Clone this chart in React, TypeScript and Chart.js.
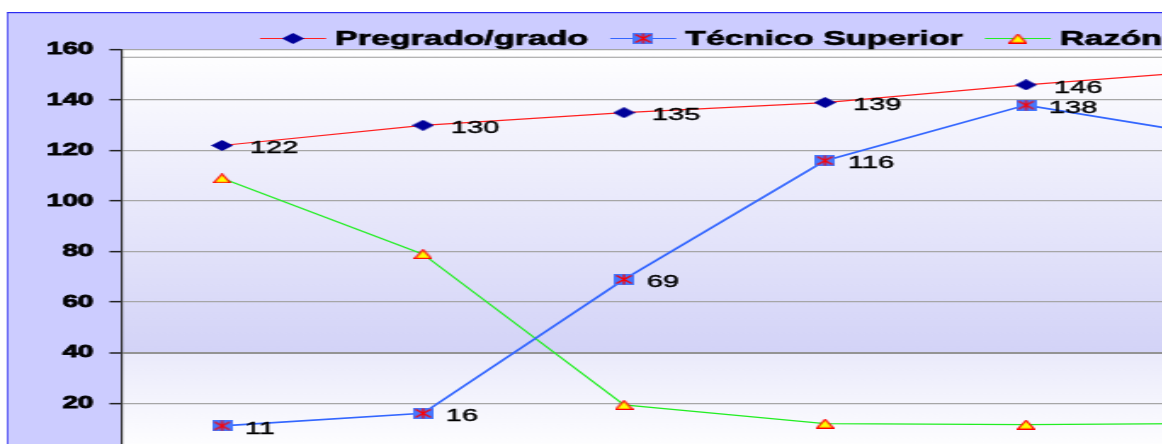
import React, { useEffect, useRef } from 'react';
import { Chart, registerables } from 'chart.js';

Chart.register(...registerables);

// ---- data ----
const categories = ['1', '2', '3', '4', '5', '6'];
const pregrado = [122, 130, 135, 139, 146, 152];
const tecnico = [11, 16, 69, 116, 138, 125];
const razon = [109, 79, 19.3, 11.9, 11.5, 12];
const seriesNames = ['Pregrado/grado', 'Técnico Superior', 'Razón'];
const yMin = 0;
const yMax = 160;
const yStep = 20;

// ---- layout (native canvas px; whole canvas is stretched horizontally by SX) ----
const SX = 1.7;
const CW = 800;
const CH = 473;

function makeDiamond() {
  const c = document.createElement('canvas');
  c.width = 13; c.height = 11;
  const g = c.getContext('2d')!;
  g.fillStyle = '#000099';
  g.beginPath();
  g.moveTo(0, 5.5); g.lineTo(6.5, 0); g.lineTo(13, 5.5); g.lineTo(6.5, 11);
  g.closePath(); g.fill();
  return c;
}
function makeSquareStar() {
  const c = document.createElement('canvas');
  c.width = 12; c.height = 11;
  const g = c.getContext('2d')!;
  g.fillStyle = '#4477FF';
  g.fillRect(0, 0, 12, 11);
  g.strokeStyle = '#FF0000';
  g.lineWidth = 1.3;
  g.beginPath();
  g.moveTo(1.5, 1.5); g.lineTo(10.5, 9.5);
  g.moveTo(10.5, 1.5); g.lineTo(1.5, 9.5);
  g.moveTo(6, 0.5); g.lineTo(6, 10.5);
  g.stroke();
  return c;
}
function makeTriangle() {
  const c = document.createElement('canvas');
  c.width = 11; c.height = 10;
  const g = c.getContext('2d')!;
  g.fillStyle = '#FFFF00';
  g.strokeStyle = '#FF0000';
  g.lineWidth = 1.2;
  g.beginPath();
  g.moveTo(5.5, 0.8); g.lineTo(10.3, 9.3); g.lineTo(0.7, 9.3);
  g.closePath(); g.fill(); g.stroke();
  return c;
}

export default function App() {
  const ref = useRef<HTMLCanvasElement | null>(null);

  useEffect(() => {
    const canvas = ref.current;
    if (!canvas) return;
    const diamond = makeDiamond();
    const square = makeSquareStar();
    const tri = makeTriangle();
    const markers = [diamond, square, tri];
    const lineColors = ['#FF2020', '#3366FF', '#22EE22'];

    const bgPlugin = {
      id: 'bg',
      beforeDraw(chart: any) {
        const { ctx, chartArea: a } = chart;
        ctx.save();
        ctx.fillStyle = '#FFFFFF';
        ctx.fillRect(0, 0, CW, CH);
        ctx.fillStyle = '#CCCCFF';
        ctx.fillRect(7 / SX, 12, CW, CH);
        ctx.fillStyle = '#2B2BF0';
        ctx.fillRect(7 / SX, 12, CW, 1.2);
        ctx.fillRect(7 / SX, 12, 1.2 / SX, CH);
        const mid = 352;
        const g1 = ctx.createLinearGradient(0, a.top, 0, mid);
        g1.addColorStop(0, '#FFFFFF');
        g1.addColorStop(1, '#D3D3F7');
        ctx.fillStyle = g1;
        ctx.fillRect(a.left, a.top, a.right - a.left, mid - a.top);
        const g2 = ctx.createLinearGradient(0, mid, 0, a.bottom);
        g2.addColorStop(0, '#EAEAFB');
        g2.addColorStop(1, '#FFFFFF');
        ctx.fillStyle = g2;
        ctx.fillRect(a.left, mid, a.right - a.left, a.bottom - mid);
        ctx.fillStyle = '#ABABAB';
        ctx.fillRect(a.left, 56.7, a.right - a.left, 1.2);
        ctx.restore();
      },
    };

    const labelPlugin = {
      id: 'valueLabels',
      afterDatasetsDraw(chart: any) {
        const { ctx } = chart;
        ctx.save();
        ctx.font = '17px "Liberation Sans", Arial, sans-serif';
        ctx.fillStyle = '#000000';
        ctx.strokeStyle = '#000000';
        ctx.lineWidth = 0.4;
        ctx.textAlign = 'left';
        ctx.textBaseline = 'middle';
        const offsets = [28 / SX, 23 / SX];
        [0, 1].forEach((di) => {
          const meta = chart.getDatasetMeta(di);
          const vals = chart.data.datasets[di].data;
          meta.data.forEach((pt: any, i: number) => {
            const tx = pt.x + offsets[di];
            const ty = pt.y + 3;
            ctx.fillText(String(vals[i]), tx, ty);
            ctx.strokeText(String(vals[i]), tx, ty);
          });
        });
        ctx.restore();
      },
    };

    const legendPlugin = {
      id: 'customLegend',
      afterDraw(chart: any) {
        const { ctx } = chart;
        ctx.save();
        ctx.font = 'bold 20px "Liberation Sans", Arial, sans-serif';
        ctx.textBaseline = 'middle';
        ctx.textAlign = 'left';
        let x = 260 / SX;
        const y = 38.5;
        const lineLen = 66 / SX;
        const textGap = 9 / SX;
        const itemGap = 22 / SX;
        seriesNames.forEach((name, i) => {
          ctx.strokeStyle = lineColors[i];
          ctx.lineWidth = 1.2;
          ctx.beginPath();
          ctx.moveTo(x, y);
          ctx.lineTo(x + lineLen, y);
          ctx.stroke();
          const m = markers[i];
          ctx.drawImage(m, x + lineLen / 2 - m.width / 2, y - m.height / 2);
          const tx = x + lineLen + textGap;
          ctx.fillStyle = '#000000';
          ctx.strokeStyle = '#000000';
          ctx.lineWidth = 0.6;
          ctx.fillText(name, tx, y + 0.5);
          ctx.strokeText(name, tx, y + 0.5);
          x = tx + ctx.measureText(name).width + itemGap;
        });
        ctx.restore();
      },
    };

    const chart = new Chart(canvas, {
      type: 'line',
      data: {
        labels: categories,
        datasets: [
          {
            label: seriesNames[0],
            data: pregrado,
            borderColor: lineColors[0],
            borderWidth: 1.2,
            pointStyle: diamond as any,
            pointRadius: 6,
            tension: 0,
          },
          {
            label: seriesNames[1],
            data: tecnico,
            borderColor: lineColors[1],
            borderWidth: 1.7,
            pointStyle: square as any,
            pointRadius: 6,
            tension: 0,
          },
          {
            label: seriesNames[2],
            data: razon,
            borderColor: lineColors[2],
            borderWidth: 1.2,
            pointStyle: tri as any,
            pointRadius: 6,
            tension: 0,
          },
        ],
      },
      options: {
        responsive: false,
        maintainAspectRatio: false,
        devicePixelRatio: 1,
        animation: false,
        events: [],
        layout: { padding: { top: 49.5, bottom: 0, right: CW - (121.5 + 6 * 201) / SX, left: 0 } },
        plugins: {
          legend: { display: false },
          title: { display: false },
          tooltip: { enabled: false },
        },
        scales: {
          x: {
            display: false,
            offset: true,
          },
          y: {
            min: yMin,
            max: yMax,
            afterFit(scale: any) {
              scale.width = 121.5 / SX;
            },
            ticks: {
              stepSize: yStep,
              padding: 16 / SX,
              color: '#000000',
              textStrokeColor: '#000000',
              textStrokeWidth: 0.8,
              font: { family: '"Liberation Sans", Arial, sans-serif', size: 16.5, weight: 'bold' },
            },
            grid: {
              color: (c: any) => (c.tick && c.tick.value === 40 ? '#939393' : '#A6A6A6'),
              lineWidth: (c: any) => (c.tick && c.tick.value === 40 ? 2 : 1.3),
              tickColor: '#222222',
              tickLength: 12 / SX,
              tickWidth: 1.5,
            },
            border: { color: '#333333', width: 1.2 },
          },
        },
      },
      plugins: [bgPlugin, labelPlugin, legendPlugin],
    });
    return () => chart.destroy();
  }, []);

  return (
    <div style={{ position: 'fixed', left: 0, top: 0, width: 1162, height: 444, overflow: 'hidden', background: '#fff' }}>
      <div style={{ position: 'absolute', left: 0, top: 0, width: CW, height: CH, transform: `scaleX(${SX})`, transformOrigin: '0 0' }}>
        <canvas ref={ref} width={CW} height={CH} style={{ display: 'block', width: CW, height: CH }} />
      </div>
    </div>
  );
}
